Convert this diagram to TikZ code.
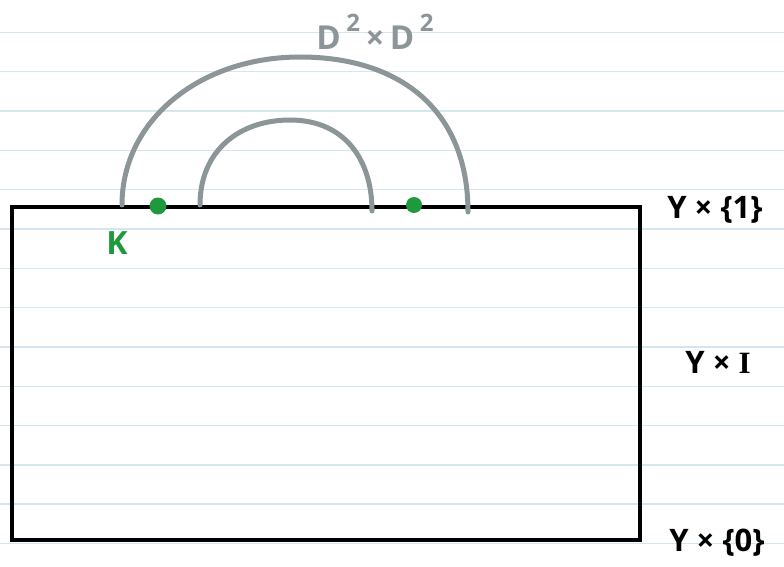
\documentclass[tikz,border=0pt]{standalone}
\usepackage{fontspec}
\setmainfont{Open Sans}
\newfontfamily\serifI{Liberation Serif}
\definecolor{paperline}{HTML}{D4E7F0}
\definecolor{arcgray}{HTML}{8C9598}
\definecolor{dotgreen}{HTML}{1E9A3C}
\begin{document}
\begin{tikzpicture}[x=1pt,y=-1pt,
  ruling/.style={paperline,line width=1.4pt},
  arcline/.style={arcgray,line width=5pt,line cap=round},
  gdot/.style={circle,fill=dotgreen,inner sep=0pt,minimum size=17pt},
  lbl/.style={font=\fontsize{31}{31}\selectfont\bfseries,text=black},
]
\useasboundingbox (0,0) rectangle (784,567);
\fill[white] (0,0) rectangle (784,567);
\foreach \k in {0,...,13} {
  \draw[ruling] (0,32.5+39.3*\k) -- (784,32.5+39.3*\k);
}
% rectangle
\node[draw=black,line width=3.5pt,minimum width=628pt,minimum height=333pt,anchor=north west,inner sep=0pt] (box) at (10,205) {};
% arcs
\coordinate (o1) at (122,205);
\coordinate (o2) at (468,212);
\coordinate (i1) at (200,205);
\coordinate (i2) at (372,211);
\draw[arcline] (o1) .. controls (122,120) and (200,57) .. (300,57)
               .. controls (400,57) and (468,110) .. (o2);
\draw[arcline] (i1) .. controls (200,150) and (240,120) .. (290,120)
               .. controls (345,120) and (372,160) .. (i2);
% green dots
\node[gdot] (d1) at (158,206) {};
\node[gdot,minimum size=16pt] (d2) at (414,205) {};
\node[text=dotgreen,font=\fontsize{32}{32}\selectfont\bfseries] (K) at (117,243) {K};
% labels
\node[text=arcgray,font=\fontsize{33}{33}\selectfont\bfseries] (top) at (375,32) {D\,\raisebox{1.0ex}{\fontsize{24}{24}\selectfont\bfseries 2}\,×\,D\,\raisebox{1.0ex}{\fontsize{24}{24}\selectfont\bfseries 2}};
\node[lbl] (y1) at (715,210) {Y × \{1\}};
\node[lbl] (yi) at (718,362) {Y × {\serifI\bfseries I}};
\node[lbl] (y0) at (717,543) {Y × \{0\}};
\end{tikzpicture}
\end{document}
